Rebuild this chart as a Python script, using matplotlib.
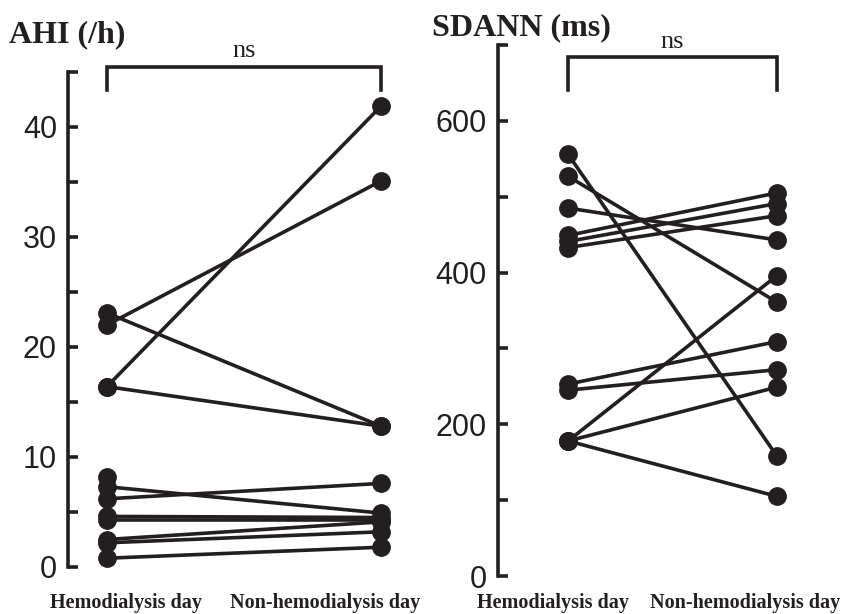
import numpy as np
import matplotlib
matplotlib.use("Agg")
import matplotlib.pyplot as plt

# paired values, hemodialysis day vs non-hemodialysis day (nan = no pair drawn)
ahi_hd = [23.1, 22.0, 16.4, 16.4, 8.2, 7.3, 6.2, 4.6, 4.3, 2.5, 2.2, 0.8]
ahi_nhd = [12.8, 35.1, 41.9, 12.8, np.nan, 4.9, 7.6, 4.5, 4.3, 4.1, 3.2, 1.8]
sdann_hd = [556, 527, 485, 449, 441, 433, 253, 245, 178, 178, 178]
sdann_nhd = [158, 361, 443, 505, 491, 475, 309, 272, 396, 249, 105]
group_labels = ["Hemodialysis day", "Non-hemodialysis day"]

W, H = 843, 614
ink = "#231f20"
fig = plt.figure(figsize=(W / 100, H / 100), dpi=100)

def px_axes(x0, x1, ytop, ybot):
    return fig.add_axes([x0 / W, (H - ybot) / H, (x1 - x0) / W, (ybot - ytop) / H])

def style(ax, ymax, step, labstep):
    for s in ["top", "right", "bottom"]:
        ax.spines[s].set_visible(False)
    ax.spines["left"].set_linewidth(2.6)
    ax.spines["left"].set_color(ink)
    ticks = np.arange(0, ymax + step / 2, step)
    ax.set_yticks(ticks)
    ax.set_yticklabels([f"{t:g}" if t % labstep == 0 else "" for t in ticks],
                       fontfamily="Liberation Sans", fontsize=22, color=ink)
    ax.tick_params(axis="y", direction="in", length=7, width=2.6, color=ink, pad=8)
    ax.set_xticks([])
    ax.set_ylim(0, ymax)

def panel(ax, hd, nhd, bracket_y, leg_y, ns_y):
    for a, b in zip(hd, nhd):
        ax.plot([0, 1], [a, b], color=ink, lw=2.6, marker="o", ms=12.5,
                markerfacecolor=ink, markeredgecolor=ink, clip_on=False)
    ax.plot([0, 0, 1, 1], [leg_y, bracket_y, bracket_y, leg_y], color=ink,
            lw=2.6, clip_on=False, solid_joinstyle="miter")
    ax.text(0.5, ns_y, "ns", ha="center", va="baseline", fontsize=19,
            fontfamily="Liberation Serif", color=ink, clip_on=False)

# left panel: AHI
ax1 = px_axes(68, 420, 72, 567)
style(ax1, 45, 5, 10)
ax1.set_xlim(-0.142, 1.142)
panel(ax1, ahi_hd, ahi_nhd, 45.5, 43.4, 46.4)

# right panel: SDANN
ax2 = px_axes(498, 843, 45, 576)
style(ax2, 700, 100, 200)
ax2.set_xlim(-0.335, 1.316)
panel(ax2, sdann_hd, sdann_nhd, 684, 641, 696)

bold = dict(fontfamily="Liberation Serif", fontweight="bold", color=ink)
fig.text(9 / W, 1 - 35 / H, "AHI (/h)", ha="left", va="center", fontsize=23, **bold)
fig.text(432 / W, 1 - 28 / H, "SDANN (ms)", ha="left", va="center", fontsize=23, **bold)

for xc, lab in zip([126, 325], group_labels):
    fig.text(xc / W, 1 - 603 / H, lab, ha="center", va="center", fontsize=14.5, **bold)
for xc, lab in zip([553, 745], group_labels):
    fig.text(xc / W, 1 - 603 / H, lab, ha="center", va="center", fontsize=14.5, **bold)

fig.savefig("out.png", dpi=100)
